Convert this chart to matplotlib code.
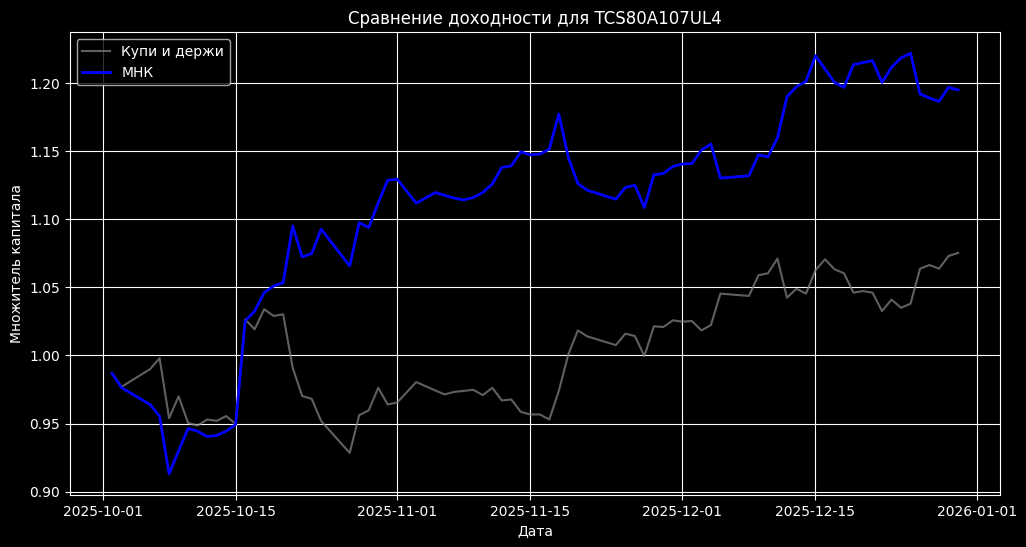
import pandas as pd
import matplotlib
matplotlib.use('Agg')
import matplotlib.pyplot as plt
import matplotlib.dates as mdates

TICKER = "TCS80A107UL4"

dates = [
    '2025-10-02', '2025-10-03', '2025-10-06', '2025-10-07', '2025-10-08', '2025-10-09',
    '2025-10-10', '2025-10-11', '2025-10-12', '2025-10-13', '2025-10-14', '2025-10-15',
    '2025-10-16', '2025-10-17', '2025-10-18', '2025-10-19', '2025-10-20', '2025-10-21',
    '2025-10-22', '2025-10-23', '2025-10-24', '2025-10-27', '2025-10-28', '2025-10-29',
    '2025-10-30', '2025-10-31', '2025-11-01', '2025-11-03', '2025-11-05', '2025-11-06',
    '2025-11-07', '2025-11-08', '2025-11-09', '2025-11-10', '2025-11-11', '2025-11-12',
    '2025-11-13', '2025-11-14', '2025-11-15', '2025-11-16', '2025-11-17', '2025-11-18',
    '2025-11-19', '2025-11-20', '2025-11-21', '2025-11-24', '2025-11-25', '2025-11-26',
    '2025-11-27', '2025-11-28', '2025-11-29', '2025-11-30', '2025-12-01', '2025-12-02',
    '2025-12-03', '2025-12-04', '2025-12-05', '2025-12-08', '2025-12-09', '2025-12-10',
    '2025-12-11', '2025-12-12', '2025-12-13', '2025-12-14', '2025-12-15', '2025-12-16',
    '2025-12-17', '2025-12-18', '2025-12-19', '2025-12-20', '2025-12-21', '2025-12-22',
    '2025-12-23', '2025-12-24', '2025-12-25', '2025-12-26', '2025-12-27', '2025-12-28',
    '2025-12-29', '2025-12-30',
]

# купи и держи
buy_hold = [
    0.987, 0.977, 0.990, 0.998, 0.954, 0.970,
    0.9505, 0.9486, 0.953, 0.952, 0.9555, 0.9498,
    1.0265, 1.0192, 1.0339, 1.029, 1.0302, 0.991,
    0.9702, 0.9682, 0.9518, 0.9285, 0.9562, 0.9597,
    0.9763, 0.964, 0.9655, 0.9805, 0.9743, 0.9714,
    0.9733, 0.974, 0.9748, 0.9709, 0.9763, 0.967,
    0.9677, 0.9586, 0.9567, 0.9567, 0.953, 0.974,
    1.0008, 1.0184, 1.014, 1.0076, 1.016, 1.0143,
    0.9996, 1.0214, 1.0209, 1.0258, 1.0248, 1.0253,
    1.0184, 1.0223, 1.0454, 1.0437, 1.0589, 1.0603,
    1.0711, 1.0424, 1.049, 1.0454, 1.0626, 1.0706,
    1.0633, 1.0603, 1.0461, 1.0473, 1.0461, 1.0326,
    1.041, 1.035, 1.038, 1.0637, 1.0664, 1.0637,
    1.073, 1.0753,
]

# МНК стратегия
mnk = [
    0.9868, 0.9763, 0.964, 0.9555, 0.913, 0.930,
    0.9464, 0.9444, 0.9405, 0.9413, 0.9444, 0.9494,
    1.0253, 1.0326, 1.0461, 1.051, 1.0534, 1.0951,
    1.0723, 1.0748, 1.0927, 1.0657, 1.0975, 1.0939,
    1.112, 1.1287, 1.1294, 1.1118, 1.1196, 1.1175,
    1.1155, 1.1142, 1.1159, 1.1196, 1.1258, 1.138,
    1.1392, 1.1495, 1.1473, 1.1478, 1.1515, 1.1772,
    1.1453, 1.1262, 1.1213, 1.1147, 1.1233, 1.125,
    1.1086, 1.1326, 1.1336, 1.1387, 1.1405, 1.1409,
    1.1508, 1.1552, 1.1302, 1.1319, 1.1473, 1.1458,
    1.1596, 1.1899, 1.1973, 1.2012, 1.2201, 1.2103,
    1.2004, 1.1968, 1.2135, 1.215, 1.2164, 1.2004,
    1.2115, 1.2184, 1.2218, 1.1919, 1.189, 1.1865,
    1.1968, 1.1949,
]


def plot_returns():
    plt.style.use('dark_background')
    x = pd.to_datetime(dates)
    fig, ax = plt.subplots(figsize=(10.26, 5.47), dpi=100)
    fig.subplots_adjust(left=0.068, right=0.975, top=0.941, bottom=0.095)

    ax.plot(x, buy_hold, color='gray', alpha=0.75, lw=1.5, label='Купи и держи')
    ax.plot(x, mnk, color='blue', lw=2, label='МНК')

    ax.xaxis.set_major_formatter(mdates.DateFormatter('%Y-%m-%d'))
    ax.grid(True, color='white', lw=0.8)
    ax.set_title('Сравнение доходности для ' + TICKER)
    ax.set_xlabel('Дата')
    ax.set_ylabel('Множитель капитала')
    ax.legend(loc='upper left')
    fig.savefig('out.png')


if __name__ == '__main__':
    plot_returns()
